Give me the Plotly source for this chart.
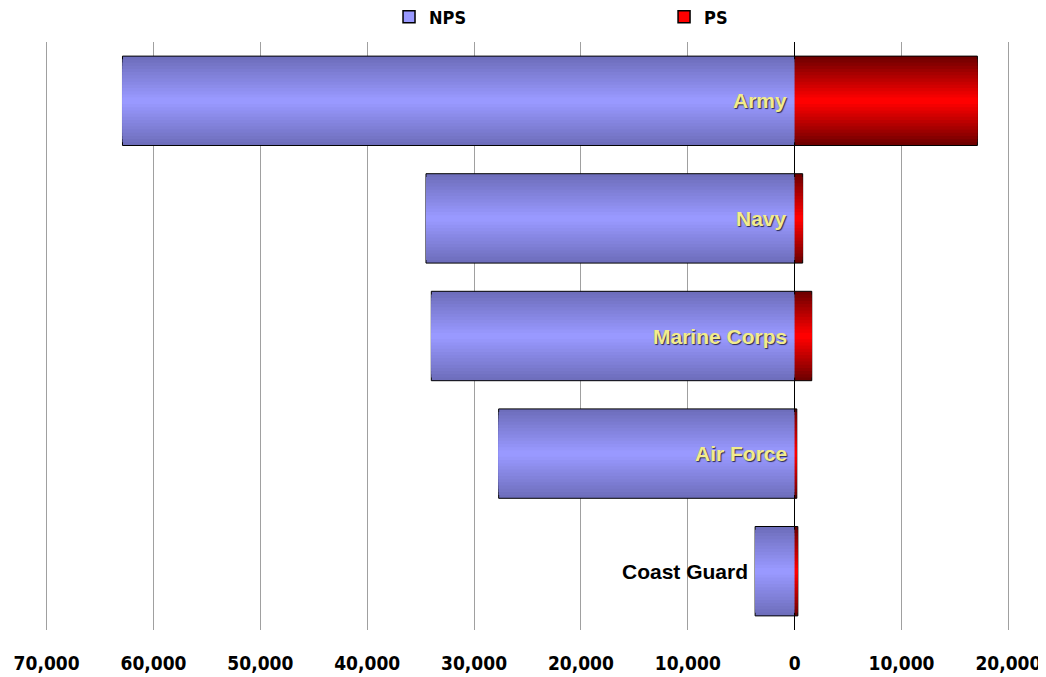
import plotly.graph_objects as go

# ---- data ----
categories = ["Army", "Navy", "Marine Corps", "Air Force", "Coast Guard"]
nps_values = [62900, 34500, 34000, 27700, 3700]
ps_values = [17100, 750, 1600, 200, 300]
tick_vals = [-70000, -60000, -50000, -40000, -30000, -20000, -10000, 0, 10000, 20000]
tick_text = ["70,000", "60,000", "50,000", "40,000", "30,000", "20,000", "10,000", "0", "10,000", "20,000"]

# ---- style ----
BAR_W = 0.76
N_LAYERS = 14
NPS_EDGE, NPS_CENTER = (0x6E, 0x6E, 0xBC), (0x99, 0x99, 0xFF)
PS_EDGE, PS_CENTER = (0x70, 0x00, 0x00), (0xFF, 0x00, 0x00)
NARROW = "Liberation Sans Narrow, Arial Narrow, DejaVu Sans Condensed, sans-serif"
SANS = "Liberation Sans, Arial, sans-serif"


def mix(a, b, t):
    return "rgb(%d,%d,%d)" % tuple(round(a[i] + (b[i] - a[i]) * t) for i in range(3))


fig = go.Figure()
nps_x = [-v for v in nps_values]

for k in range(N_LAYERS):
    t = k / (N_LAYERS - 1)
    w = BAR_W * (1 - k / N_LAYERS)
    outline = dict(color="black", width=1) if k == 0 else dict(width=0)
    fig.add_trace(go.Bar(
        y=categories, x=nps_x, orientation="h", width=w,
        marker=dict(color=mix(NPS_EDGE, NPS_CENTER, t), line=outline),
        showlegend=False, hoverinfo="skip"))
    fig.add_trace(go.Bar(
        y=categories, x=ps_values, orientation="h", width=w,
        marker=dict(color=mix(PS_EDGE, PS_CENTER, t), line=outline),
        showlegend=False, hoverinfo="skip"))

# legend entries
fig.add_trace(go.Bar(y=[None], x=[None], orientation="h", name="NPS",
                     marker=dict(color="#9999FF", line=dict(color="black", width=1.5)),
                     legend="legend"))
fig.add_trace(go.Bar(y=[None], x=[None], orientation="h", name="PS",
                     marker=dict(color="#FF0000", line=dict(color="black", width=1.5)),
                     legend="legend2"))

# category labels
for i, c in enumerate(categories):
    if c == "Coast Guard":
        fig.add_annotation(x=nps_x[i], y=c, text=c, showarrow=False, xanchor="right",
                           xshift=-5, font=dict(family=SANS, size=21, color="black", weight="bold"))
    else:
        fig.add_annotation(x=0, y=c, text=c, showarrow=False, xanchor="right", xshift=-6,
                           font=dict(family=SANS, size=21, color="#F2EC8C", weight="bold",
                                     shadow="1px 1px 1px #2a2a50"))

legend_font = dict(family=NARROW, size=18, color="black", weight="bold")
fig.update_layout(
    width=1046, height=677,
    margin=dict(l=37, r=44, t=34, b=55, autoexpand=False),
    paper_bgcolor="white", plot_bgcolor="white",
    barmode="overlay",
    showlegend=True,
    legend=dict(x=0.3565, y=1.0425, xref="paper", yref="paper", xanchor="left", yanchor="middle",
                orientation="h", font=legend_font, itemwidth=30, bgcolor="rgba(0,0,0,0)"),
    legend2=dict(x=0.6415, y=1.0425, xref="paper", yref="paper", xanchor="left", yanchor="middle",
                 orientation="h", font=legend_font, itemwidth=30, bgcolor="rgba(0,0,0,0)"),
    xaxis=dict(range=[-70150, 20150], tickvals=tick_vals, ticktext=tick_text,
               showgrid=True, gridcolor="#A0A0A0", gridwidth=1,
               zeroline=True, zerolinecolor="black", zerolinewidth=1,
               showline=False, ticks="", ticklabelstandoff=20,
               tickfont=dict(family=NARROW, size=19, color="black", weight="bold")),
    yaxis=dict(categoryorder="array", categoryarray=categories[::-1],
               showticklabels=False, showgrid=False, zeroline=False, showline=False,
               range=[-0.5, 4.5]),
)

fig.write_html("out.html")
